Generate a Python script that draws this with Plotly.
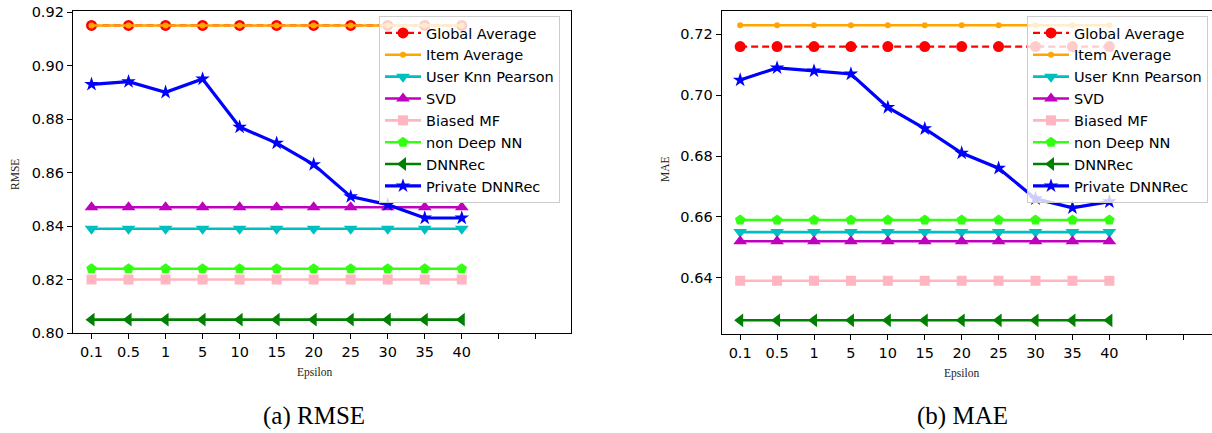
import plotly.graph_objects as go

eps_labels = ["0.1", "0.5", "1", "5", "10", "15", "20", "25", "30", "35", "40"]
n_pad = 3

series_names = ["Global Average", "Item Average", "User Knn Pearson", "SVD",
                "Biased MF", "non Deep NN", "DNNRec", "Private DNNRec"]

# RMSE values
rmse_global = [0.915] * 11
rmse_item = [0.915] * 11
rmse_knn = [0.839] * 11
rmse_svd = [0.847] * 11
rmse_bmf = [0.820] * 11
rmse_nondeep = [0.824] * 11
rmse_dnnrec = [0.805] * 11
rmse_private = [0.893, 0.894, 0.890, 0.895, 0.877, 0.871, 0.863, 0.851, 0.848, 0.843, 0.843]

# MAE values
mae_global = [0.716] * 11
mae_item = [0.723] * 11
mae_knn = [0.655] * 11
mae_svd = [0.652] * 11
mae_bmf = [0.639] * 11
mae_nondeep = [0.659] * 11
mae_dnnrec = [0.626] * 11
mae_private = [0.705, 0.709, 0.708, 0.707, 0.696, 0.689, 0.681, 0.676, 0.666, 0.663, 0.665]

styles = [
    dict(color="#ff0000", symbol="circle", size=11, dash="7px,4px", width=2.2),
    dict(color="#ffa500", symbol="circle", size=6, dash="solid", width=2.6),
    dict(color="#00bfbf", symbol="triangle-down", size=12, dash="solid", width=2.6),
    dict(color="#bf00bf", symbol="triangle-up", size=12, dash="solid", width=2.6),
    dict(color="#ffb6c1", symbol="square", size=10, dash="solid", width=2.6),
    dict(color="#33ff11", symbol="pentagon", size=11, dash="solid", width=2.6),
    dict(color="#008000", symbol="triangle-left", size=12, dash="solid", width=2.6),
    dict(color="#0000ff", symbol="star", size=11, dash="solid", width=3.2),
]

x = list(range(len(eps_labels)))
rmse_all = [rmse_global, rmse_item, rmse_knn, rmse_svd, rmse_bmf, rmse_nondeep, rmse_dnnrec, rmse_private]
mae_all = [mae_global, mae_item, mae_knn, mae_svd, mae_bmf, mae_nondeep, mae_dnnrec, mae_private]

fig = go.Figure()
for name, st, ys in zip(series_names, styles, rmse_all):
    fig.add_trace(go.Scatter(
        x=x, y=ys, name=name, mode="lines+markers", xaxis="x", yaxis="y", legend="legend",
        line=dict(color=st["color"], width=st["width"], dash=st["dash"]),
        marker=dict(color=st["color"], symbol=st["symbol"], size=st["size"])))
for name, st, ys in zip(series_names, styles, mae_all):
    fig.add_trace(go.Scatter(
        x=x, y=ys, name=name, mode="lines+markers", xaxis="x2", yaxis="y2", legend="legend2",
        line=dict(color=st["color"], width=st["width"], dash=st["dash"]),
        marker=dict(color=st["color"], symbol=st["symbol"], size=st["size"])))

W, H = 1212, 433
tick_font = dict(family="DejaVu Sans", size=14.5, color="black")
all_ticks = list(range(len(eps_labels) + n_pad))
all_text = eps_labels + [""] * n_pad

common_x = dict(tickmode="array", tickvals=all_ticks, ticktext=all_text, ticks="outside",
                ticklen=5, tickwidth=1, tickcolor="black", showline=True, linecolor="black",
                linewidth=1.3, showgrid=False, zeroline=False, tickfont=tick_font, automargin=False)
common_y = dict(ticks="outside", ticklen=5, tickwidth=1, tickcolor="black", showline=True,
                linecolor="black", linewidth=1.3, showgrid=False, zeroline=False,
                tickfont=tick_font, tickformat=".2f", dtick=0.02, automargin=False)

legend_common = dict(bgcolor="rgba(255,255,255,0.8)", bordercolor="#cccccc", borderwidth=1,
                     font=dict(family="DejaVu Sans", size=14.5, color="black"),
                     xanchor="left", yanchor="top", tracegroupgap=0, itemwidth=36)

fig.update_layout(
    template="none",
    width=W, height=H, margin=dict(l=0, r=0, t=0, b=0, pad=0, autoexpand=False),
    paper_bgcolor="white", plot_bgcolor="white", showlegend=True,
    xaxis=dict(domain=[73 / W, 571 / W], range=[-0.5, 12.95], anchor="y", mirror=True, **common_x),
    yaxis=dict(domain=[1 - 333 / H, 1 - 11 / H], range=[0.80, 0.9204], anchor="x", mirror=True,
               tick0=0.80, **common_y),
    xaxis2=dict(domain=[721.7 / W, 1.0], range=[-0.5, 12.78], anchor="y2", mirror=True, **common_x),
    yaxis2=dict(domain=[1 - 334 / H, 1 - 11 / H], range=[0.6215, 0.7277], anchor="x2", mirror=False,
                tick0=0.64, **common_y),
    legend=dict(x=379 / W, y=1 - 16 / H, **legend_common),
    legend2=dict(x=1027 / W, y=1 - 16 / H, **legend_common),
)

ann_font = dict(family="Liberation Serif", size=11.5, color="#222222")
cap_font = dict(family="Liberation Serif", size=25, color="black")
fig.add_annotation(x=15 / W, y=1 - 175 / H, xref="paper", yref="paper", text="RMSE",
                   textangle=-90, showarrow=False, font=ann_font, xanchor="center", yanchor="middle")
fig.add_annotation(x=314 / W, y=1 - 372 / H, xref="paper", yref="paper", text="Epsilon",
                   showarrow=False, font=ann_font, xanchor="center", yanchor="middle")
fig.add_annotation(x=665 / W, y=1 - 169 / H, xref="paper", yref="paper", text="MAE",
                   textangle=-90, showarrow=False, font=ann_font, xanchor="center", yanchor="middle")
fig.add_annotation(x=961 / W, y=1 - 373 / H, xref="paper", yref="paper", text="Epsilon",
                   showarrow=False, font=ann_font, xanchor="center", yanchor="middle")
fig.add_annotation(x=314 / W, y=1 - 416 / H, xref="paper", yref="paper", text="(a) RMSE",
                   showarrow=False, font=cap_font, xanchor="center", yanchor="middle")
fig.add_annotation(x=962 / W, y=1 - 416 / H, xref="paper", yref="paper", text="(b) MAE",
                   showarrow=False, font=cap_font, xanchor="center", yanchor="middle")

fig.write_html("out.html")
